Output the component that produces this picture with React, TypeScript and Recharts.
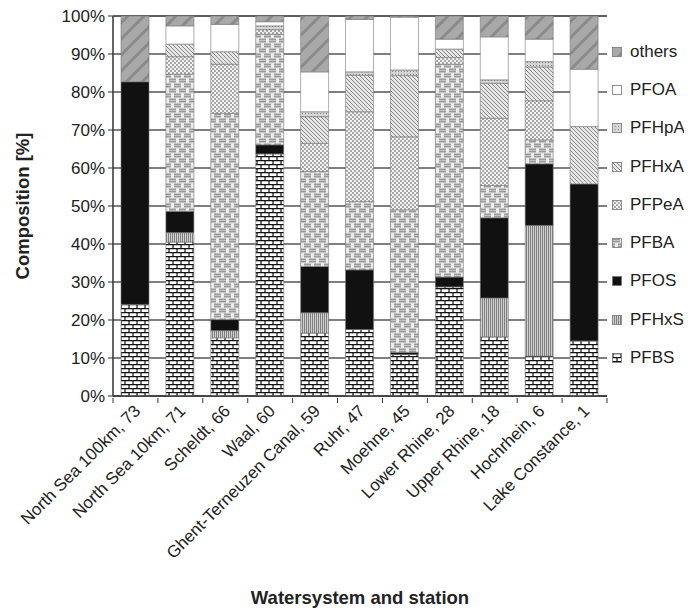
import React from "react";
import { BarChart, Bar, XAxis, YAxis, CartesianGrid, Label } from "recharts";

const stations = [
  "North Sea 100km, 73",
  "North Sea 10km, 71",
  "Scheldt, 66",
  "Waal, 60",
  "Ghent-Terneuzen Canal, 59",
  "Ruhr, 47",
  "Moehne, 45",
  "Lower Rhine, 28",
  "Upper Rhine, 18",
  "Hochrhein, 6",
  "Lake Constance, 1",
];

// composition in % per station, stacked bottom to top
const PFBS = [24.1, 40.5, 15.3, 63.7, 16.6, 17.5, 10.9, 28.7, 15.6, 10.5, 14.5];
const PFHxS = [0, 2.5, 1.9, 0, 5.3, 0, 0, 0, 10.2, 34.4, 0];
const PFOS = [58.6, 5.6, 2.9, 2.4, 12.2, 15.7, 0.6, 2.6, 21.1, 16.2, 41.3];
const PFBA = [0, 36.1, 54.3, 29.1, 25, 18, 37.5, 56, 8.5, 6.3, 0];
const PFPeA = [0, 4.6, 12.9, 1.2, 7.4, 23.6, 19.2, 1.8, 17.7, 10.3, 0];
const PFHxA = [0, 3.3, 3.3, 0, 7, 9.6, 16.1, 2.2, 9.2, 8.9, 15.1];
const PFHpA = [0, 0, 0, 1.0, 1.3, 0.9, 1.5, 0, 0.9, 1.4, 0];
const PFOA = [0, 4.8, 7.2, 1.1, 10.5, 13.8, 13.9, 2.6, 11.3, 5.9, 15.1];
const others = [17.3, 2.6, 2.2, 1.5, 14.7, 0.9, 0.3, 6.1, 5.5, 6.1, 14];

const yTicks = [0, 10, 20, 30, 40, 50, 60, 70, 80, 90, 100];

const series = [
  { key: "PFBS", values: PFBS },
  { key: "PFHxS", values: PFHxS },
  { key: "PFOS", values: PFOS },
  { key: "PFBA", values: PFBA },
  { key: "PFPeA", values: PFPeA },
  { key: "PFHxA", values: PFHxA },
  { key: "PFHpA", values: PFHpA },
  { key: "PFOA", values: PFOA },
  { key: "others", values: others },
];

const data = stations.map((name, i) => {
  const row: any = { name };
  series.forEach((s) => (row[s.key] = s.values[i]));
  return row;
});

const W = 676;
const H = 600;
const M = { top: 8, right: 77, bottom: 0, left: 0 };
const Y_W = 105;
const X_H = 212;
const STEP = (W - M.right - Y_W) / stations.length;
const FONT = "'Liberation Sans', Arial, sans-serif";
const TXT = "#222";

function makePattern(key: string, id: string) {
  const common = { id, patternUnits: "userSpaceOnUse" as const };
  switch (key) {
    case "PFBS":
      return (
        <pattern {...common} width={8} height={8}>
          <rect width={8} height={8} fill="#fff" />
          <path d="M0 0.6H8M0 4.6H8M1 0V4.6M5 4.6V8" stroke="#111" strokeWidth={1.2} fill="none" />
        </pattern>
      );
    case "PFHxS":
      return (
        <pattern {...common} width={2} height={4}>
          <rect width={2} height={4} fill="#d0d0d0" />
          <rect width={1} height={4} fill="#808080" />
        </pattern>
      );
    case "PFOS":
      return (
        <pattern {...common} width={4} height={4}>
          <rect width={4} height={4} fill="#111" />
        </pattern>
      );
    case "PFBA":
      return (
        <pattern {...common} width={10} height={10}>
          <rect width={10} height={10} fill="#ececec" />
          <rect x={1} y={0.5} width={7} height={4} fill="#9a9a9a" />
          <rect x={-4} y={5.5} width={7} height={4} fill="#9a9a9a" />
          <rect x={6} y={5.5} width={7} height={4} fill="#9a9a9a" />
          <path d="M1 2.5H8M-4 7.5H3M6 7.5H13" stroke="#cfcfcf" strokeWidth={0.8} />
        </pattern>
      );
    case "PFPeA":
      return (
        <pattern {...common} width={4} height={4}>
          <rect width={4} height={4} fill="#f4f4f4" />
          <rect width={2} height={2} fill="#a8a8a8" />
          <rect x={2} y={2} width={2} height={2} fill="#a8a8a8" />
        </pattern>
      );
    case "PFHxA":
      return (
        <pattern {...common} width={4} height={4}>
          <rect width={4} height={4} fill="#e6e6e6" />
          <path d="M-1 -1L5 5M-1 3L1 5M3 -1L5 1" stroke="#888" strokeWidth={1} />
        </pattern>
      );
    case "PFHpA":
      return (
        <pattern {...common} width={3} height={3}>
          <rect width={3} height={3} fill="#d4d4d4" />
          <rect width={1} height={1} fill="#8a8a8a" />
        </pattern>
      );
    case "PFOA":
      return (
        <pattern {...common} width={4} height={4}>
          <rect width={4} height={4} fill="#fff" />
        </pattern>
      );
    default:
      return (
        <pattern {...common} width={16} height={16}>
          <rect width={16} height={16} fill="#a9a9a9" />
          <path d="M-2 18L18 -2M-4 4L4 -4M12 20L20 12" stroke="#8a8a8a" strokeWidth={3} />
        </pattern>
      );
  }
}

const XTick = (props: any) => {
  const { x, y, payload, index } = props;
  const half = STEP / 2;
  const tx = x + 6;
  const ty = y + 14;
  return (
    <g>
      <line x1={x - half} x2={x - half} y1={y} y2={y + 5} stroke="#333" />
      {index === stations.length - 1 && (
        <line x1={x + half} x2={x + half} y1={y} y2={y + 5} stroke="#333" />
      )}
      <text
        x={tx}
        y={ty}
        textAnchor="end"
        transform={`rotate(-45, ${tx}, ${ty})`}
        fontSize={17}
        fontFamily={FONT}
        fill={TXT}
      >
        {payload.value}
      </text>
    </g>
  );
};

const YTitle = (props: any) => {
  const vb = props.viewBox;
  const cx = 14;
  const cy = vb.y + vb.height / 2;
  return (
    <text
      x={cx}
      y={cy}
      transform={`rotate(-90, ${cx}, ${cy})`}
      textAnchor="middle"
      dominantBaseline="central"
      fontSize={18.5}
      fontWeight="bold"
      fontFamily={FONT}
      fill={TXT}
    >
      Composition [%]
    </text>
  );
};

const LegendBox = () => (
  <div
    style={{
      position: "absolute",
      left: 604,
      top: 24.5,
      width: 90,
      whiteSpace: "nowrap",
      fontFamily: FONT,
      fontSize: 17,
      color: TXT,
    }}
  >
    {[...series].reverse().map((s) => (
      <div key={s.key} style={{ height: 38.3, display: "flex", alignItems: "center" }}>
        <svg width={10} height={10} style={{ marginRight: 8, flex: "none" }}>
          <defs>{makePattern(s.key, "lg-" + s.key)}</defs>
          <rect x={0.5} y={0.5} width={9} height={9} fill={`url(#lg-${s.key})`} stroke="#777" strokeWidth={0.8} />
        </svg>
        <span style={{ flex: "none" }}>{s.key}</span>
      </div>
    ))}
  </div>
);

export default function App() {
  return (
    <div style={{ position: "relative", width: W, height: H }}>
      <BarChart width={W} height={H} data={data} margin={M} barSize={28}>
        <defs>{series.map((s) => <React.Fragment key={s.key}>{makePattern(s.key, "p-" + s.key)}</React.Fragment>)}</defs>
        <CartesianGrid vertical={false} stroke="#555" strokeWidth={1.5} />
        <XAxis
          dataKey="name"
          interval={0}
          height={X_H}
          tickSize={0}
          tickLine={false}
          tick={<XTick />}
          axisLine={{ stroke: "#333", strokeWidth: 1.5 }}
        >
          <Label
            value="Watersystem and station"
            position="insideBottom"
            offset={4}
            style={{ fontSize: 18.5, fontWeight: "bold", fontFamily: FONT, fill: TXT }}
          />
        </XAxis>
        <YAxis
          domain={[0, 100]}
          ticks={yTicks}
          width={Y_W}
          interval={0}
          tickSize={5}
          tickMargin={3}
          tickFormatter={(v: number) => `${v}%`}
          tick={{ fontSize: 17, fontFamily: FONT, fill: TXT }}
          tickLine={{ stroke: "#333" }}
          axisLine={{ stroke: "#333", strokeWidth: 1.5 }}
        >
          <Label content={<YTitle />} />
        </YAxis>
        <YAxis
          yAxisId="right"
          orientation="right"
          domain={[0, 100]}
          width={0}
          tick={false}
          tickLine={false}
          axisLine={{ stroke: "#333", strokeWidth: 1.5 }}
        />
        {series.map((s) => (
          <Bar
            key={s.key}
            dataKey={s.key}
            stackId="a"
            fill={`url(#p-${s.key})`}
            stroke="#777"
            strokeWidth={0.6}
            isAnimationActive={false}
          />
        ))}
      </BarChart>
      <LegendBox />
    </div>
  );
}
